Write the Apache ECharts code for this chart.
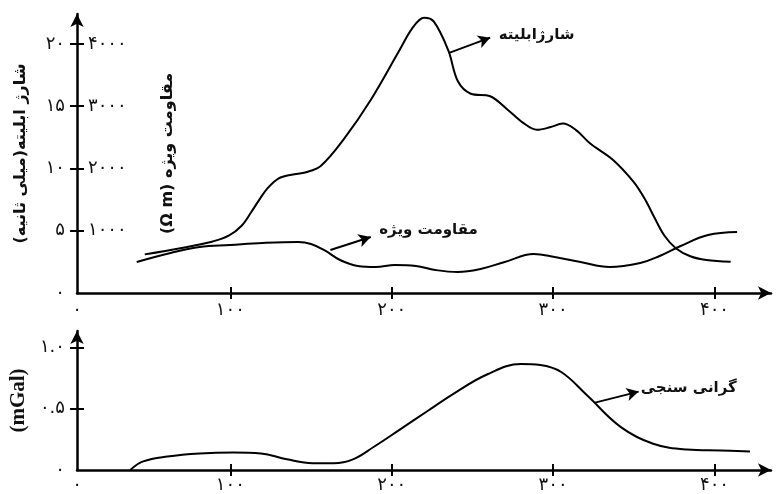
<!DOCTYPE html>
<html>
<head>
<meta charset="utf-8">
<script src="https://cdn.jsdelivr.net/npm/echarts@6/dist/echarts.min.js"></script>
<style>
  html, body { margin: 0; padding: 0; background: #fff; }
  #chart { width: 777px; height: 494px; }
</style>
</head>
<body>
<div id="chart"></div>
<script>
// محور افقی (متر)
const xMin = 5;
const xMax = 435;
const xTickValues = [100, 200, 300, 400];
const xLabelValues = [xMin, 100, 200, 300, 400];
const xLabels = ['۰', '۱۰۰', '۲۰۰', '۳۰۰', '۴۰۰'];

// شارژابلیته
const chargeX = [47, 69, 88, 99, 107, 113, 118, 123, 130, 138, 147, 156, 170, 187, 204, 213, 220, 226, 235, 241,
  249, 261, 272, 281, 290, 298, 306, 314, 323, 337, 350, 357, 363, 369, 376, 385, 395, 410];
const chargeY = [3.1, 3.6, 4.1, 4.6, 5.4, 6.5, 7.5, 8.4, 9.2, 9.5, 9.7, 10.2, 12.3, 15.5, 19.3, 21.3, 22.1, 21.8, 19.5, 17.0,
  16.0, 15.8, 14.7, 13.7, 13.1, 13.3, 13.6, 13.1, 12.0, 10.7, 8.9, 7.5, 6.0, 4.6, 3.6, 2.95, 2.65, 2.5];
const chargeTicks = [0, 5, 10, 15, 20];
const chargeLabels = ['۰', '۵', '۱۰', '۱۵', '۲۰'];

// مقاومت ویژه
const resX = [42, 63, 81, 100, 120, 142, 150, 159, 168, 179, 190, 202, 215, 227, 241, 255, 270, 288, 301, 317,
  335, 354, 366, 379, 396, 414];
const resY = [498, 642, 739, 771, 803, 819, 787, 675, 530, 434, 418, 450, 434, 369, 337, 385, 498, 626, 578, 498,
  418, 482, 594, 755, 931, 980];
const resTicks = [1000, 2000, 3000, 4000];
const resLabels = ['۱۰۰۰', '۲۰۰۰', '۳۰۰۰', '۴۰۰۰'];

// گرانی سنجی
const gravX = [38, 46, 61, 81, 102, 119, 135, 151, 164, 176, 189, 205, 222, 238, 259, 280, 292, 305, 321,
  342, 362, 383, 404, 422];
const gravY = [0, 0.07, 0.11, 0.135, 0.143, 0.135, 0.087, 0.056, 0.056, 0.087, 0.19, 0.33, 0.48, 0.62, 0.78, 0.865, 0.857, 0.80, 0.61,
  0.35, 0.214, 0.167, 0.159, 0.151];
const gravTicks = [0, 0.5, 1.0];
const gravLabels = ['۰', '۰.۵', '۱.۰'];

const RLE = '\u202B', PDF = '\u202C';
const FONT = 'DejaVu Sans';

function pick(values, labels) {
  return function (v) {
    for (let i = 0; i < values.length; i++) {
      if (Math.abs(values[i] - v) < 1e-6) return labels[i];
    }
    return '';
  };
}
function zip(a, b) {
  return a.map((v, i) => [v, b[i]]);
}

const chart = echarts.init(document.getElementById('chart'));

const axisLineStyle = { color: '#000', width: 2.5 };
const tickStyle = { color: '#000', width: 2 };
const labelStyle = { color: '#111', fontSize: 18, fontFamily: FONT };

function xAxes(gridIndex, margin) {
  return [
    {
      gridIndex: gridIndex, type: 'value', position: 'bottom', min: xMin, max: xMax,
      axisLine: { show: true, onZero: false, lineStyle: axisLineStyle, symbol: ['none', 'arrow'], symbolSize: [10, 13] },
      axisTick: { show: true, length: 6, lineStyle: tickStyle, customValues: xTickValues },
      axisLabel: Object.assign({ margin: margin, customValues: xLabelValues, formatter: pick(xLabelValues, xLabels) }, labelStyle),
      splitLine: { show: false }
    },
    {
      gridIndex: gridIndex, type: 'value', position: 'bottom', min: xMin, max: xMax,
      axisLine: { show: false, onZero: false },
      axisTick: { show: true, inside: true, length: 6, lineStyle: tickStyle, customValues: xTickValues },
      axisLabel: { show: false },
      splitLine: { show: false }
    }
  ];
}

const nameStyle = { color: '#111', fontSize: 16, fontWeight: 'bold', fontFamily: FONT };
const noteLabel = { show: true, position: 'right', distance: 2, formatter: '{b}', color: '#111', fontSize: 15, fontWeight: 'bold', fontFamily: FONT };
const arrowLine = { color: '#000', width: 2, type: 'solid' };

chart.setOption({
  animation: false,
  backgroundColor: '#fff',
  grid: [
    { left: 77, right: 6, top: 14, height: 279 },
    { left: 77, right: 6, top: 331, height: 143 }
  ],
  xAxis: xAxes(0, 8).concat(xAxes(1, 6)),
  yAxis: [
    {
      gridIndex: 0, type: 'value', position: 'left', min: 0, max: 22.4,
      axisLine: { show: true, onZero: false, lineStyle: axisLineStyle, symbol: ['none', 'arrow'], symbolSize: [10, 13] },
      axisTick: { show: true, length: 7, lineStyle: tickStyle, customValues: [5, 10, 15, 20] },
      axisLabel: Object.assign({ margin: 12, customValues: chargeTicks, formatter: pick(chargeTicks, chargeLabels) }, labelStyle),
      splitLine: { show: false },
      name: RLE + 'شارژ ابلیته(میلی ثانیه)' + PDF,
      nameLocation: 'middle', nameRotate: 90, nameGap: 48,
      nameTextStyle: nameStyle
    },
    {
      gridIndex: 0, type: 'value', position: 'left', min: 0, max: 4480,
      axisLine: { show: false, onZero: false },
      axisTick: { show: true, inside: true, length: 7, lineStyle: tickStyle, customValues: resTicks },
      axisLabel: Object.assign({ inside: true, margin: 11, customValues: resTicks, formatter: pick(resTicks, resLabels) }, labelStyle),
      splitLine: { show: false },
      name: RLE + 'مقاومت ویژه (Ω m)' + PDF,
      nameLocation: 'middle', nameRotate: 90, nameGap: -99,
      nameTextStyle: nameStyle
    },
    {
      gridIndex: 1, type: 'value', position: 'left', min: 0, max: 1.135,
      axisLine: { show: true, onZero: false, lineStyle: axisLineStyle, symbol: ['none', 'arrow'], symbolSize: [10, 13] },
      axisTick: { show: true, length: 7, lineStyle: tickStyle, customValues: [0.5, 1.0] },
      axisLabel: Object.assign({ margin: 12, customValues: gravTicks, formatter: pick(gravTicks, gravLabels) }, labelStyle),
      splitLine: { show: false },
      name: '(mGal)',
      nameLocation: 'middle', nameRotate: 90, nameGap: 47,
      nameTextStyle: { color: '#111', fontSize: 21, fontWeight: 'bold', fontFamily: 'Liberation Serif' }
    },
    {
      gridIndex: 1, type: 'value', position: 'left', min: 0, max: 1.135,
      axisLine: { show: false, onZero: false },
      axisTick: { show: true, inside: true, length: 7, lineStyle: tickStyle, customValues: [0.5, 1.0] },
      axisLabel: { show: false },
      splitLine: { show: false }
    }
  ],
  series: [
    {
      name: 'شارژابلیته', type: 'line', xAxisIndex: 0, yAxisIndex: 0,
      data: zip(chargeX, chargeY), smooth: 0.35, showSymbol: false, silent: true,
      lineStyle: { color: '#000', width: 2 },
      markLine: {
        silent: true, symbol: ['none', 'arrow'], symbolSize: [10, 12], lineStyle: arrowLine, label: { show: false },
        data: [[{ coord: [236, 19.3] }, { coord: [261, 20.5] }]]
      },
      markPoint: {
        silent: true, symbol: 'circle', symbolSize: 0, label: noteLabel,
        data: [{ name: 'شارژابلیته', coord: [265, 20.7] }]
      }
    },
    {
      name: 'مقاومت ویژه', type: 'line', xAxisIndex: 0, yAxisIndex: 1,
      data: zip(resX, resY), smooth: 0.4, showSymbol: false, silent: true,
      lineStyle: { color: '#000', width: 2 },
      markLine: {
        silent: true, symbol: ['none', 'arrow'], symbolSize: [10, 12], lineStyle: arrowLine, label: { show: false },
        data: [[{ coord: [162, 690] }, { coord: [187, 900] }]]
      },
      markPoint: {
        silent: true, symbol: 'circle', symbolSize: 0, label: noteLabel,
        data: [{ name: 'مقاومت ویژه', coord: [191, 1012] }]
      }
    },
    {
      name: 'گرانی سنجی', type: 'line', xAxisIndex: 2, yAxisIndex: 2,
      data: zip(gravX, gravY), smooth: 0.4, showSymbol: false, silent: true,
      lineStyle: { color: '#000', width: 2 },
      markLine: {
        silent: true, symbol: ['none', 'arrow'], symbolSize: [10, 12], lineStyle: arrowLine, label: { show: false },
        data: [[{ coord: [326, 0.55] }, { coord: [353, 0.64] }]]
      },
      markPoint: {
        silent: true, symbol: 'circle', symbolSize: 0, label: noteLabel,
        data: [{ name: 'گرانی سنجی', coord: [353, 0.667] }]
      }
    }
  ]
});
</script>
</body>
</html>
